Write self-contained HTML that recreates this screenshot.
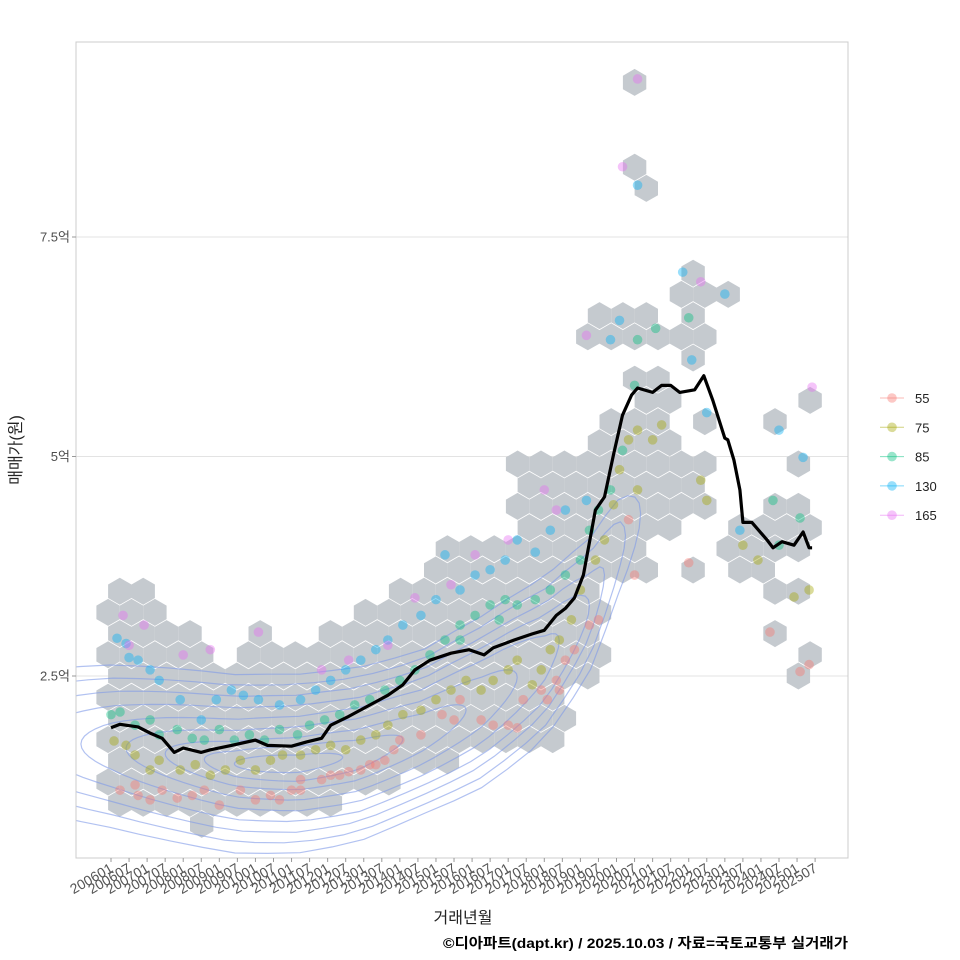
<!DOCTYPE html>
<html><head><meta charset="utf-8">
<style>
html,body{margin:0;padding:0;background:#fff;}
svg{display:block;font-family:"Liberation Sans","Noto Sans CJK KR",sans-serif;}
</style></head>
<body>
<svg id="chart" width="960" height="960" viewBox="0 0 960 960">
<defs><clipPath id="pc"><rect x="76" y="42" width="772" height="816"/></clipPath></defs>
<rect x="76" y="42" width="772" height="816" fill="#fff"/>
<g id="grid"></g>
<g id="hexes" clip-path="url(#pc)"></g>
<g id="contours" clip-path="url(#pc)"></g>
<g id="points" clip-path="url(#pc)"></g>
<g id="line" clip-path="url(#pc)"></g>
<rect x="76" y="42" width="772" height="816" fill="none" stroke="#cccccc" stroke-width="1"/>
<g id="yaxis"></g>
<g id="xaxis"></g>
<text x="21" y="450" transform="rotate(-90 21 450)" text-anchor="middle" font-size="16" fill="#222">매매가(원)</text>
<text x="463" y="923" text-anchor="middle" font-size="16" fill="#222">거래년월</text>
<text x="443" y="948" textLength="405" lengthAdjust="spacingAndGlyphs" font-size="14" font-weight="bold" fill="#000">©디아파트(dapt.kr) / 2025.10.03 / 자료=국토교통부 실거래가</text>
<g id="legend"></g>
</svg>
<script>
const NS="http://www.w3.org/2000/svg";
// ---- data ----
const yTicks=[2.5,5,7.5];
const yTickLabels=["2.5억","5억","7.5억"];
const groups=["55","75","85","130","165"];
const groupColors=["#F8766D","#A3A500","#00BF7D","#00B0F6","#E76BF3"];
const lineMonths=[0,3,9,13,17,21,24,30,33,40,48,52,60,65,70,73,79,86,92,97,101,106,113,119,124,127,134,140,144,148,151,154,157,161,164,167,170,173,175,180,183,186,189,194,197,200,204,205,207,209,210,213,218,220,223,227,230,232,233];
const lineValues=[1.91,1.95,1.92,1.85,1.79,1.63,1.68,1.63,1.66,1.71,1.77,1.71,1.70,1.75,1.79,1.94,2.04,2.17,2.28,2.40,2.57,2.68,2.76,2.80,2.74,2.82,2.91,2.98,3.02,3.19,3.27,3.39,3.65,4.39,4.54,5.02,5.47,5.70,5.78,5.73,5.81,5.81,5.73,5.76,5.92,5.64,5.21,5.19,4.96,4.62,4.25,4.25,4.05,3.96,4.03,3.99,4.14,3.96,3.96];
const p55m=[3,8,9,13,17,22,27,31,36,43,48,53,60,63,70,76,83,88,91,96,103,110,116,123,127,132,137,143,148,151,154,159,162,172,174,192,219,229,232,63,56,73,79,86,94,114,135,145,149];
const p55v=[1.20,1.26,1.14,1.09,1.20,1.11,1.14,1.20,1.03,1.20,1.09,1.14,1.20,1.32,1.32,1.37,1.43,1.49,1.54,1.77,1.83,2.06,2.23,2.00,1.94,1.94,2.23,2.34,2.45,2.68,2.80,3.08,3.14,4.28,3.65,3.79,3.00,2.55,2.63,1.20,1.09,1.37,1.41,1.49,1.66,2.0,1.91,2.23,2.34];
const p75m=[1,5,8,13,16,23,28,33,38,43,48,53,57,63,68,73,78,83,88,92,97,103,108,113,118,123,127,132,135,140,143,146,149,153,156,161,164,167,169,172,175,180,183,175,196,198,210,227,232,215];
const p75v=[1.76,1.71,1.60,1.43,1.54,1.43,1.49,1.37,1.43,1.54,1.43,1.54,1.60,1.60,1.66,1.71,1.66,1.77,1.83,1.94,2.06,2.11,2.23,2.34,2.45,2.34,2.45,2.57,2.68,2.40,2.57,2.80,2.91,3.14,3.48,3.82,4.05,4.45,4.85,5.19,5.30,5.19,5.36,4.62,4.73,4.50,3.99,3.40,3.48,3.82];
const p85m=[0,3,8,13,16,22,27,31,36,41,46,51,56,62,66,71,76,81,86,91,96,101,106,111,116,121,126,131,135,141,146,151,156,159,162,166,170,174,175,181,192,220,222,229,116,129];
const p85v=[2.06,2.09,1.94,2.0,1.83,1.89,1.79,1.77,1.89,1.77,1.83,1.77,1.89,1.83,1.94,2.0,2.06,2.17,2.23,2.34,2.45,2.57,2.74,2.91,3.08,3.19,3.31,3.37,3.31,3.37,3.48,3.65,3.82,4.16,4.39,4.62,5.07,5.81,6.33,6.46,6.58,4.5,3.99,4.30,2.91,3.14];
const p130m=[2,5,6,9,13,16,23,30,35,40,44,49,56,63,68,73,78,83,88,92,97,103,108,111,116,121,126,131,135,141,146,151,158,166,169,175,190,193,198,204,222,230,209];
const p130v=[2.93,2.87,2.71,2.68,2.57,2.45,2.23,2.0,2.23,2.34,2.28,2.23,2.17,2.23,2.34,2.45,2.57,2.68,2.80,2.91,3.08,3.19,3.37,3.88,3.48,3.65,3.71,3.82,4.05,3.91,4.16,4.39,4.50,6.33,6.55,8.09,7.10,6.10,5.50,6.85,5.30,4.99,4.16];
const p165m=[4,6,11,24,33,49,70,79,92,101,113,121,132,144,170,175,196,233,158,148];
const p165v=[3.19,2.85,3.08,2.74,2.80,3.0,2.57,2.68,2.85,3.39,3.54,3.88,4.05,4.62,8.30,9.30,6.99,5.79,6.38,4.39];
const pointMonths=[p55m,p75m,p85m,p130m,p165m];
const pointValues=[p55v,p75v,p85v,p130v,p165v];
// hexbin coverage regions: [monthStart, monthEnd, valueMin, valueMax]
const hexRegions=[[0,9,0.97,3.37],[9,19,0.97,3.14],[19,30,0.97,2.91],[30,30,0.86,0.86],[30,44,0.97,2.45],[44,63,0.97,2.68],[49,49,3.0,3.0],[63,73,1.09,2.68],[73,86,1.2,2.91],[86,96,1.32,3.14],[96,110,1.43,3.37],[110,120,1.66,4.05],[120,136,1.77,4.05],[136,150,1.77,4.85],[150,163,2.45,4.85],[163,176,3.82,5.30],[159,181,6.3,6.5],[176,183,4.16,5.87],[174,174,9.3,9.3],[174,176,8.1,8.3],[189,195,6.1,7.1],[189,195,4.5,4.8],[191,191,3.7,3.7],[197,199,5.4,5.4],[197,199,4.5,4.5],[205,205,6.9,6.9],[208,215,3.7,4.3],[219,222,5.4,5.4],[219,231,3.9,4.5],[219,222,3.0,3.0],[222,228,3.5,3.5],[230,231,2.6,2.6],[233,235,5.7,5.7],[230,233,4.95,4.95],[233,235,2.75,2.75]];
// density contour estimate
const contourCenterMonths=[-80,-20,0,21,41,62,82,103,123,144,159,169,185];
const contourCenterValues=[1.8,1.75,1.7,1.6,1.5,1.5,1.6,1.85,2.2,2.7,3.3,4.0,4.8];
const levelStart=[41,31,18,5,-10,-26,-41,-56,-72];
const levelEnd=[77,97,118,135,149,159,164,171,176];
const levelWidth=[0.1,0.2,0.3,0.42,0.54,0.66,0.78,0.9,1.02];
// ---- scales ----
const X=m=>111+m*3.009;
const Y=v=>676-(v-2.5)*87.8;
function el(tag,attrs,parent){const e=document.createElementNS(NS,tag);for(const k in attrs)e.setAttribute(k,attrs[k]);parent.appendChild(e);return e;}
const grid=document.getElementById('grid'),yaxis=document.getElementById('yaxis');
yTicks.forEach((t,i)=>{
  const g=el('line',{x1:76,x2:848,y1:Y(t),y2:Y(t),stroke:'#e3e3e3','stroke-width':1},grid);
  
  
  const tk=el('line',{x1:72,x2:76,y1:Y(t),y2:Y(t),stroke:'#999'},yaxis);
  
  
  const tx=el('text',{x:70,y:Y(t)+4.5,'text-anchor':'end','font-size':13,fill:'#4d4d4d'},yaxis);
  tx.textContent=yTickLabels[i];
  
  
});
const xaxis=document.getElementById('xaxis');
for(let m=0;m<=234;m+=6){
  const yr=2006+Math.floor(m/12),mo=(m%12)+1;
  const lab=yr+(mo<10?'0':'')+mo;
  const tk=el('line',{x1:X(m),x2:X(m),y1:858,y2:862,stroke:'#999'},xaxis);
  
  
  const tx=el('text',{x:X(m)+3,y:871,'text-anchor':'end','font-size':14,fill:'#555',transform:`rotate(-30 ${X(m)+3} 871)`},xaxis);
  tx.textContent=lab;
  
  
}
const hexG=document.getElementById('hexes');
const r=13.5,dx=23.4,dy=21.2,x0=131.5,y0=358;
for(let j=-16;j<=26;j++){
  const cy=y0+j*dy;
  const off=(Math.abs(j)%2===1)?dx/2:0;
  for(let i=-3;i<=35;i++){
    const cx=x0+i*dx+off;
    const m=(cx-111)/3.009,v=2.5+(676-cy)/87.8;
    let hit=false;
    for(const rg of hexRegions){
      const m0=rg[0]-3,m1=rg[1]+3,v0=rg[2]-0.12,v1=rg[3]+0.12;
      if(m>=m0&&m<=m1&&v>=v0&&v<=v1){hit=true;break;}
    }
    if(!hit)continue;
    let pts=[];
    for(let k=0;k<6;k++){const a=Math.PI/180*(60*k-90);pts.push((cx+r*Math.cos(a)).toFixed(1)+','+(cy+r*Math.sin(a)).toFixed(1));}
    const h=el('polygon',{points:pts.join(' '),fill:'#c5cacf'},hexG);
    
    
  }
}
function center(m){
  const a=contourCenterMonths,b=contourCenterValues;
  for(let i=0;i<a.length-1;i++){if(m<=a[i+1]){const t=(m-a[i])/(a[i+1]-a[i]);return b[i]+t*(b[i+1]-b[i]);}}
  return b[b.length-1];
}
const cg=document.getElementById('contours');
levelStart.forEach((s,k)=>{
  const e=levelEnd[k],w=levelWidth[k],mid=(s+e)/2,half=(e-s)/2;
  let d='';
  for(let t=0;t<=72;t++){
    const ang=t/72*2*Math.PI;
    const m=mid+half*Math.cos(ang);
    const v=center(m)+w*Math.sin(ang)*(1+0.6*Math.max(0,(m-103)/72));
    d+=(t?'L':'M')+X(m).toFixed(1)+','+Y(v).toFixed(1);
  }
  const p=el('path',{d:d+'Z',fill:'none',stroke:'#7f99e8','stroke-opacity':0.6,'stroke-width':1.2},cg);
  
  
});
const pg=document.getElementById('points');
groups.forEach((g,gi)=>{
  pointMonths[gi].forEach((m,i)=>{
    const c=el('circle',{cx:X(m),cy:Y(pointValues[gi][i]),r:4.8,fill:groupColors[gi],'fill-opacity':0.4},pg);
    
    
  });
});
const lg=document.getElementById('line');
let ld='';
lineMonths.forEach((m,i)=>{ld+=(i?'L':'M')+X(m).toFixed(1)+','+Y(lineValues[i]).toFixed(1);});
const lp=el('path',{d:ld,fill:'none',stroke:'#000','stroke-width':3.2,'stroke-linejoin':'round'},lg);


const leg=document.getElementById('legend');
groups.forEach((g,i)=>{
  const y=398+i*29.3;
  const gg=el('g',{},leg);
  
  
  el('line',{x1:880,x2:904,y1:y,y2:y,stroke:groupColors[i],'stroke-opacity':0.5},gg);
  el('circle',{cx:892,cy:y,r:4.8,fill:groupColors[i],'fill-opacity':0.4},gg);
  const t=el('text',{x:915,y:y+5,'font-size':13,fill:'#222'},gg);
  t.textContent=g;
});
</script>
</body></html>
